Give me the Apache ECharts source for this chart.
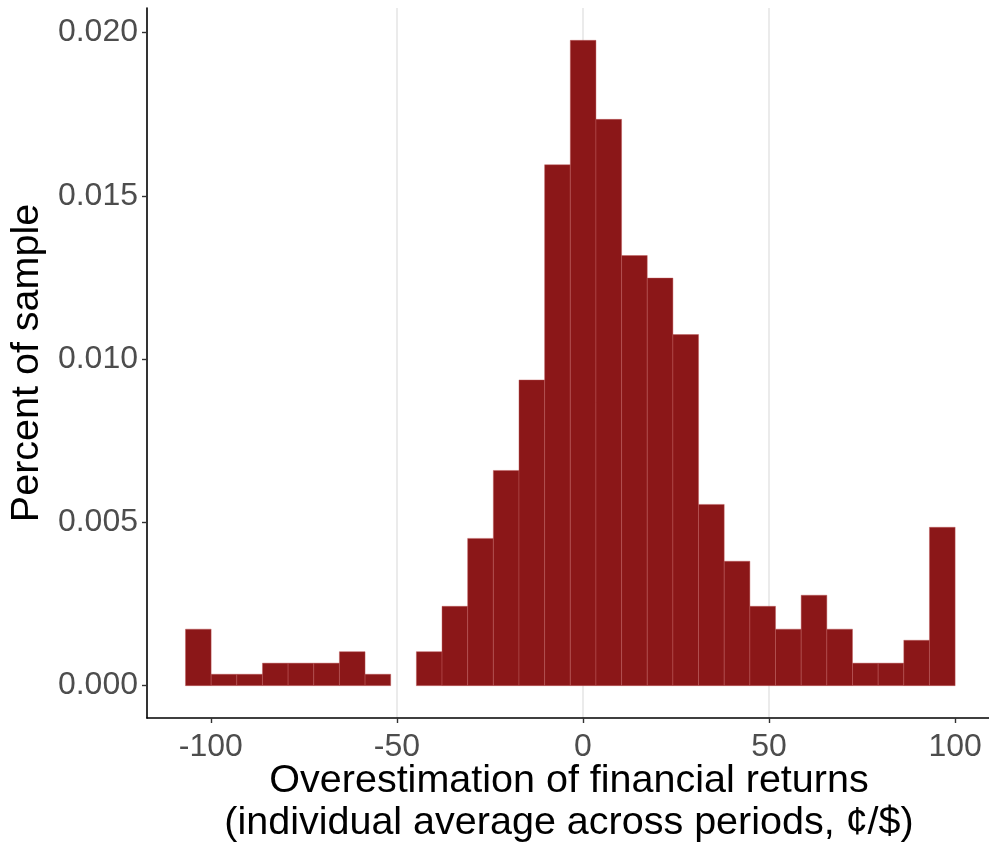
<!DOCTYPE html>
<html>
<head>
<meta charset="utf-8">
<script src="https://cdn.jsdelivr.net/npm/echarts@6/dist/echarts.min.js"></script>
<style>
html,body{margin:0;padding:0;background:#fff;}
#chart{width:989px;height:845px;}
</style>
</head>
<body>
<div id="chart"></div>
<script>
// Histogram bin edges (x, ¢/$)
const binEdges = [-106.8, -99.91, -93.01, -86.12, -79.23, -72.33, -65.44, -58.55, -51.66, -44.76,
  -37.87, -30.98, -24.08, -17.19, -10.30, -3.40, 3.49, 10.38, 17.27, 24.17,
  31.06, 37.95, 44.85, 51.74, 58.63, 65.53, 72.42, 79.31, 86.21, 93.10, 100.0];
// Density per bin
const densities = [0.00173, 0.00035, 0.00035, 0.00069, 0.00069, 0.00069, 0.00104, 0.00035, 0, 0.00104,
  0.00243, 0.00451, 0.00659, 0.00936, 0.01595, 0.01976, 0.01734, 0.01317, 0.01248, 0.01075,
  0.00555, 0.00381, 0.00243, 0.00173, 0.00277, 0.00173, 0.00069, 0.00069, 0.00139, 0.00485];
const xTicks = [-100, -50, 0, 50, 100];
const yTicks = [0, 0.005, 0.010, 0.015, 0.020];
const xTitleLines = ['Overestimation of financial returns', '(individual average across periods, ¢/$)'];
const yTitle = 'Percent of sample';

const data = densities.map((d, i) => [binEdges[i], binEdges[i + 1], d]);

const chart = echarts.init(document.getElementById('chart'), null, {renderer: 'canvas'});
const font = '"Liberation Sans", Arial, Helvetica, sans-serif';

chart.setOption({
  backgroundColor: '#ffffff',
  animation: false,
  grid: {left: 147, top: 8, right: 0, bottom: 127, containLabel: false, outerBoundsMode: 'none'},
  graphic: xTitleLines.map((t, i) => ({
    type: 'text',
    x: 569,
    y: 781 + i * 42,
    style: {text: t, fill: '#000', font: '39.5px ' + font, textAlign: 'center', textVerticalAlign: 'middle'}
  })),
  xAxis: {
    type: 'value',
    min: -117.14,
    max: 109.1,
    axisLine: {show: true, onZero: false, lineStyle: {color: '#000', width: 1.6}},
    axisTick: {show: true, length: 5, customValues: xTicks, lineStyle: {color: '#333', width: 1.4}},
    axisLabel: {customValues: xTicks, color: '#4d4d4d', fontSize: 32, fontFamily: font, margin: 13,
      formatter: v => String(Math.round(v))},
    splitLine: {show: true, showMinLine: false, showMaxLine: false, lineStyle: {color: '#ebebeb', width: 2}}
  },
  yAxis: {
    type: 'value',
    min: -0.00099,
    max: 0.02075,
    name: yTitle,
    nameLocation: 'middle',
    nameGap: 111,
    nameRotate: 90,
    nameTextStyle: {color: '#000', fontSize: 39.5, fontFamily: font, verticalAlign: 'middle'},
    axisLine: {show: true, onZero: false, lineStyle: {color: '#000', width: 1.6}},
    axisTick: {show: true, length: 5, customValues: yTicks, lineStyle: {color: '#333', width: 1.4}},
    axisLabel: {customValues: yTicks, color: '#4d4d4d', fontSize: 32, fontFamily: font, margin: 9,
      formatter: v => v.toFixed(3)},
    splitLine: {show: false}
  },
  series: [{
    type: 'custom',
    data: data,
    encode: {x: [0, 1], y: 2},
    renderItem: function (params, api) {
      const d = api.value(2);
      if (!(d > 0)) return null;
      const p0 = api.coord([api.value(0), 0]);
      const p1 = api.coord([api.value(1), d]);
      return {
        type: 'rect',
        shape: {x: p0[0], y: p1[1], width: p1[0] - p0[0], height: p0[1] - p1[1]},
        style: {fill: '#8b1718', stroke: 'rgba(190,90,90,0.55)', lineWidth: 0.8}
      };
    }
  }]
});
</script>
</body>
</html>
